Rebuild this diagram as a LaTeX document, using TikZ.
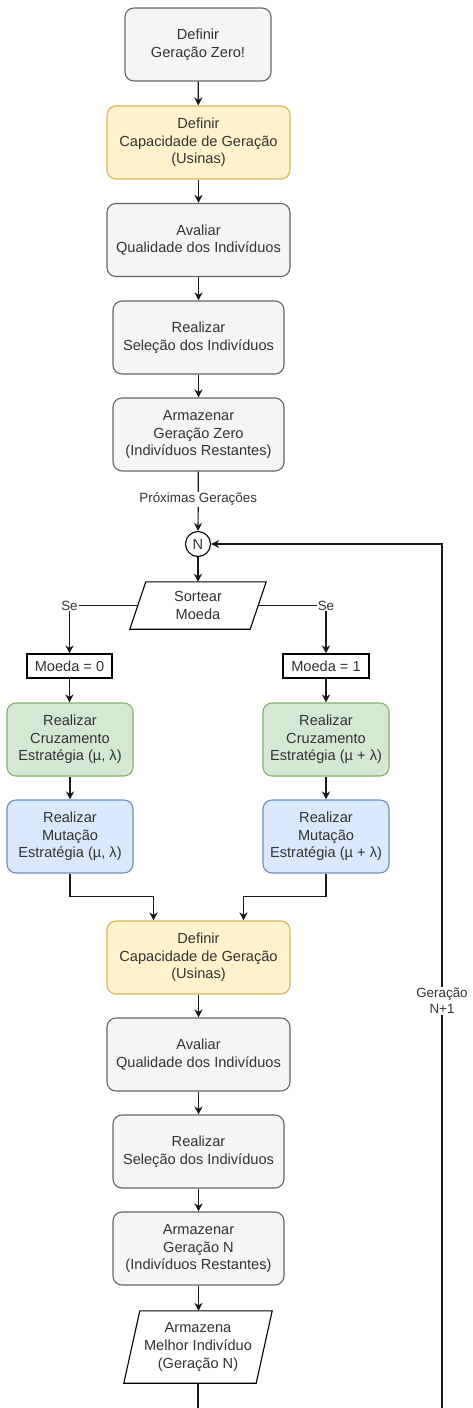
\documentclass[tikz,border=0pt]{standalone}
\usepackage{fontspec}
\setmainfont{Liberation Sans}
\usetikzlibrary{arrows.meta}

\definecolor{txt}{HTML}{333333}
\definecolor{greyfill}{HTML}{F5F5F5}
\definecolor{greydraw}{HTML}{666666}
\definecolor{yelfill}{HTML}{FFF2CC}
\definecolor{yeldraw}{HTML}{D6B656}
\definecolor{grnfill}{HTML}{D5E8D4}
\definecolor{grndraw}{HTML}{82B366}
\definecolor{blufill}{HTML}{DAE8FC}
\definecolor{bludraw}{HTML}{6C8EBF}

\begin{document}
\begin{tikzpicture}[x=1pt,y=-1pt,
  box/.style={draw, rounded corners=9pt, line width=1.1pt, align=center,
    inner sep=2pt, text=txt, minimum height=73pt,
    font=\fontsize{14.6}{17.6}\selectfont},
  greybox/.style={box, fill=greyfill, draw=greydraw},
  yelbox/.style={box, fill=yelfill, draw=yeldraw},
  grnbox/.style={box, fill=grnfill, draw=grndraw, minimum width=126pt},
  blubox/.style={box, fill=blufill, draw=bludraw, minimum width=126pt},
  plainbox/.style={draw=black, fill=white, line width=1.1pt, inner sep=2pt,
    minimum height=24pt, text=txt, font=\fontsize{14.6}{17.6}\selectfont},
  paratext/.style={inner sep=0pt, align=center, text=txt,
    font=\fontsize{14.6}{17.6}\selectfont},
  parashape/.style={draw=black, fill=white, line width=1.1pt},
  conn/.style={line width=1.2pt, draw=black!90},
  arr/.style={conn, -{Stealth[length=8pt,width=8pt,inset=2.5pt]}},
  lbl/.style={fill=white, inner sep=1pt, align=center, text=txt,
    font=\fontsize{13.4}{16}\selectfont}
]
\clip (0,0) rectangle (472,1408);
\fill[white] (0,0) rectangle (472,1408);

% initial generation
\node[greybox, minimum width=146pt] (z0) at (198,44.5) {Definir\\Geração Zero!};
\node[yelbox, minimum width=183pt] (cap1) at (198.5,142.5) {Definir\\Capacidade de Geração\\(Usinas)};
\node[greybox, minimum width=183pt] (av1) at (198.5,240) {Avaliar\\Qualidade dos Indivíduos};
\node[greybox, minimum width=171pt] (sel1) at (198.5,337.5) {Realizar\\Seleção dos Indivíduos};
\node[greybox, minimum width=171pt] (st0) at (198.5,434.5) {Armazenar\\Geração Zero\\(Indivíduos Restantes)};

% generation loop entry
\node[circle, draw=black, fill=white, line width=1.1pt, minimum size=25pt,
  inner sep=0pt, text=txt, font=\fontsize{14.6}{17.6}\selectfont] (N) at (198,544) {N};

% coin toss
\node[paratext, minimum width=136pt, minimum height=47pt] (sort) at (198,605.5) {Sortear\\Moeda};
\draw[parashape] ([xshift=16pt]sort.north west) -- (sort.north east)
  -- ([xshift=-16pt]sort.south east) -- (sort.south west) -- cycle;
\node[paratext] at (sort) {Sortear\\Moeda};

\node[plainbox, minimum width=85pt] (m0) at (69.5,666) {Moeda = 0};
\node[plainbox, minimum width=86pt] (m1) at (326,666) {Moeda = 1};

% strategies
\node[grnbox] (cxL) at (70,739.5) {Realizar\\Cruzamento\\Estratégia (µ, λ)};
\node[grnbox] (cxR) at (326,739.5) {Realizar\\Cruzamento\\Estratégia (µ + λ)};
\node[blubox] (mutL) at (70,836.5) {Realizar\\Mutação\\Estratégia (µ, λ)};
\node[blubox] (mutR) at (326,836.5) {Realizar\\Mutação\\Estratégia (µ + λ)};

% generation N
\node[yelbox, minimum width=183pt] (cap2) at (198.5,957.5) {Definir\\Capacidade de Geração\\(Usinas)};
\node[greybox, minimum width=183pt] (av2) at (198.5,1054.5) {Avaliar\\Qualidade dos Indivíduos};
\node[greybox, minimum width=171pt] (sel2) at (198.5,1151.5) {Realizar\\Seleção dos Indivíduos};
\node[greybox, minimum width=171pt] (st1) at (198.5,1248.5) {Armazenar\\Geração N\\(Indivíduos Restantes)};

\node[paratext, minimum width=148pt, minimum height=72pt] (best) at (198,1347) {Armazena\\Melhor Indivíduo\\(Geração N)};
\draw[parashape] ([xshift=16pt]best.north west) -- (best.north east)
  -- ([xshift=-16pt]best.south east) -- (best.south west) -- cycle;
\node[paratext] at (best) {Armazena\\Melhor Indivíduo\\(Geração N)};

\coordinate (loopc) at (442,1458);

% connectors
\draw[arr] (z0) -- (cap1);
\draw[arr] (cap1) -- (av1);
\draw[arr] (av1) -- (sel1);
\draw[arr] (sel1) -- (st0);
\draw[arr] (st0) -- node[lbl, pos=0.47] {Próximas Gerações} (N);
\draw[arr] (N) -- (sort.north -| N);
\draw[arr] ([xshift=8pt]sort.west) -| node[lbl, pos=0.5] {Se} (m0);
\draw[arr] ([xshift=-8pt]sort.east) -| node[lbl, pos=0.5] {Se} (m1);
\draw[arr] (m0) -- (m0 |- cxL.north);
\draw[arr] (m1) -- (m1 |- cxR.north);
\draw[arr] (cxL) -- (mutL);
\draw[arr] (cxR) -- (mutR);
\draw[arr] (mutL.south) |- ([xshift=-45pt,yshift=24pt]cap2.north) -- ([xshift=-45pt]cap2.north);
\draw[arr] (mutR.south) |- ([xshift=45pt,yshift=24pt]cap2.north) -- ([xshift=45pt]cap2.north);
\draw[arr] (cap2) -- (av2);
\draw[arr] (av2) -- (sel2);
\draw[arr] (sel2) -- (st1);
\draw[arr] (st1) -- (best.north -| st1);
\draw[arr] (best.south) -- (best.south |- loopc) -- (loopc)
  -- node[lbl, pos=0.5] {Geração\\N+1} (loopc |- N) -- (N);
\end{tikzpicture}
\end{document}
